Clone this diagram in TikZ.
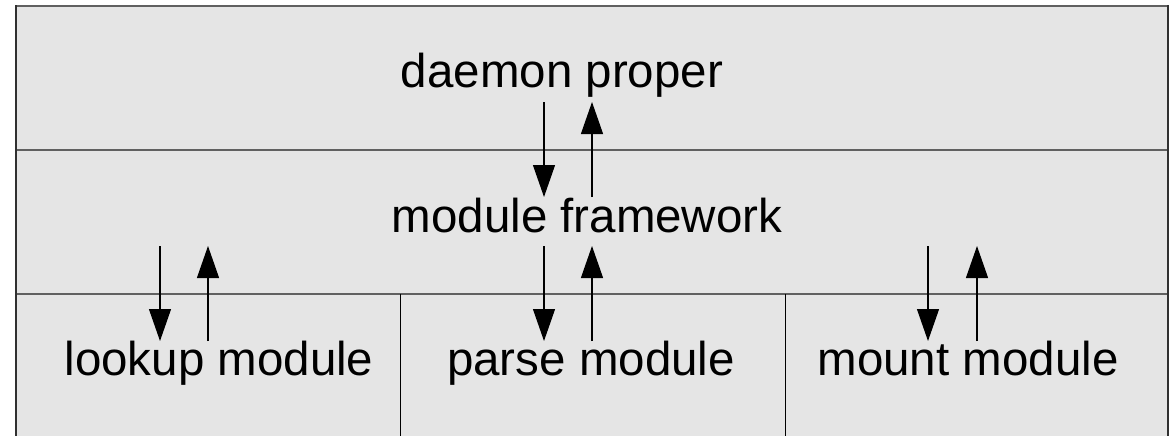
\documentclass[tikz,border=0pt]{standalone}
\usepackage{fontspec}
\setmainfont{Liberation Sans}
\usetikzlibrary{arrows.meta}
\definecolor{layergray}{HTML}{E5E5E5}
\definecolor{rulegray}{HTML}{606060}
\definecolor{sidegray}{HTML}{303030}
\newcommand{\layerfont}{\fontsize{47.5}{57}\selectfont}

\begin{document}
\begin{tikzpicture}[x=1pt, y=-1pt,
		layer/.style={font=\layerfont, anchor=base, inner sep=0pt},
		call/.style={line width=1.2pt, -{Triangle[width=22pt,length=32pt]}}]
	\useasboundingbox (0,0) rectangle (1173,436);
	% layers
	\fill [layergray] (16,6) rectangle (1168,436);
	\draw [rulegray, line width=2pt] (16,6) -- (1168,6) (16,150) -- (1168,150) (16,294) -- (1168,294);
	\draw [sidegray, line width=2pt] (16,436) -- (16,5) (1168,5) -- (1168,436);
	\draw [line width=1pt] (400,294) -- (400,436) (785,294) -- (785,436);
	% labels
	\node [layer] (daemon) at (562,88) {daemon proper};
	\node [layer] (framework) at (587,232) {module framework};
	\node [layer] (lookup) at (219,375) {lookup module};
	\node [layer] (parse) at (591,375) {parse module};
	\node [layer] (mount) at (968,375) {mount module};
	% calls down and returns up
	\foreach \i/\dx/\ux/\top/\bot in {dp/544/592/102/197, pm/544/592/246/341, lm/160/208/246/341, mm/928/977/246/341} {
		\coordinate (\i-a) at (\dx,\top);
		\coordinate (\i-b) at (\dx,\bot);
		\coordinate (\i-c) at (\ux,\bot);
		\coordinate (\i-d) at (\ux,\top);
		\draw [call] (\i-a) -- (\i-b);
		\draw [call] (\i-c) -- (\i-d);
	}
\end{tikzpicture}
\end{document}
